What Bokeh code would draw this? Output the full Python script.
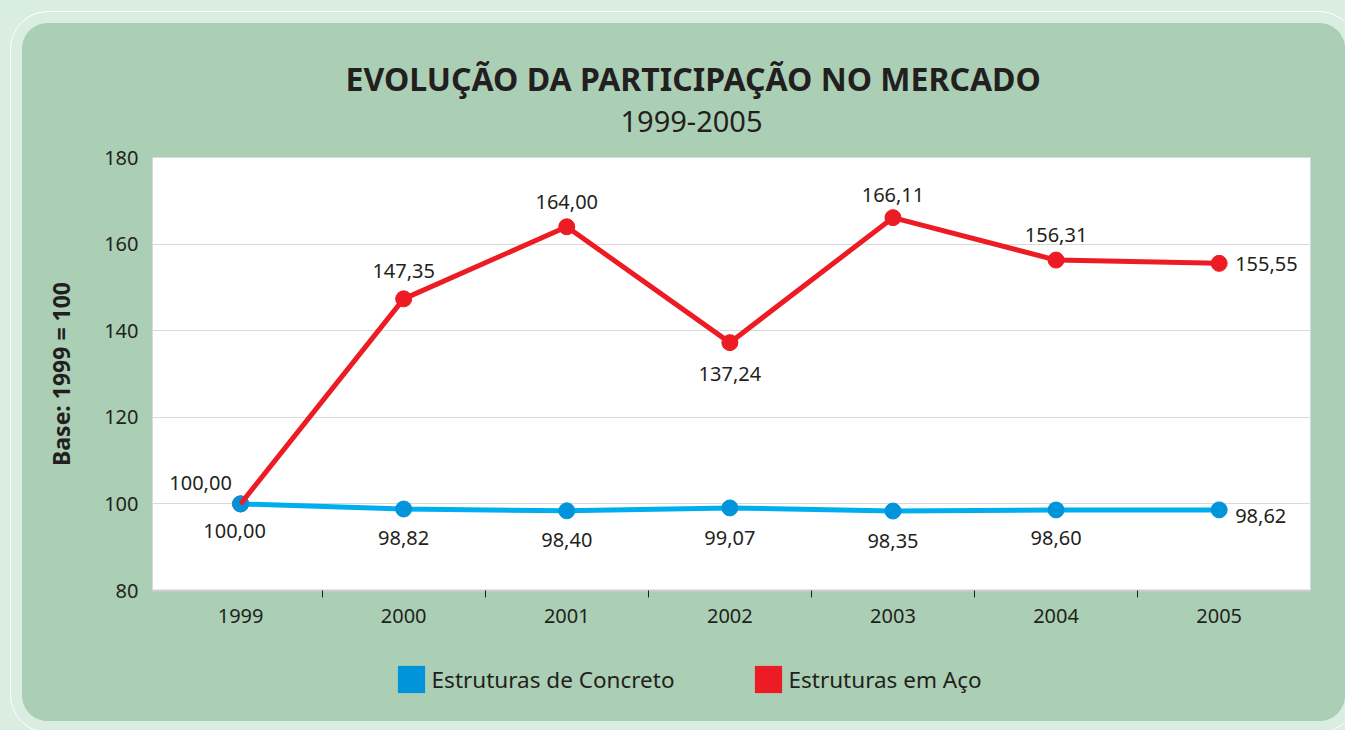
from bokeh.plotting import figure
from bokeh.layouts import column
from bokeh.models import (ColumnDataSource, FixedTicker, Legend, LegendItem, Title)
from bokeh.embed import file_html
from bokeh.resources import INLINE

# ---------------- data ----------------
years = ["1999", "2000", "2001", "2002", "2003", "2004", "2005"]
concreto = [100.00, 98.82, 98.40, 99.07, 98.35, 98.60, 98.62]
aco = [100.00, 147.35, 164.00, 137.24, 166.11, 156.31, 155.55]
y_ticks = [80, 100, 120, 140, 160, 180]

title_text = "EVOLUÇÃO DA PARTICIPAÇÃO NO MERCADO"
subtitle_text = "1999-2005"
y_label = "Base: 1999 = 100"
series_names = ["Estruturas de Concreto", "Estruturas em Aço"]

# ---------------- styles ----------------
FONT = "Noto Sans"
TXT = "#231f20"
PAGE_BG = "#d9ede0"
PANEL = "#abcfb5"
RED = "#ed1c24"
BLUE_LINE = "#00aeef"
BLUE_DOT = "#0095da"

# label placement (pixels)
aco_dx = [-40, 0, 0, 0, 0, 0, 16]
aco_dy = [-21, -28, -25, 31, -23, -25, 1]
aco_al = ["center"] * 6 + ["left"]
con_dx = [-6, 0, 0, 0, 0, 0, 16]
con_dy = [27, 29, 29, 30, 30, 28, 6]
con_al = ["center"] * 6 + ["left"]


def fmt(v):
    return f"{v:.2f}".replace(".", ",")


xs = list(range(len(years)))
src_aco = ColumnDataSource(dict(x=xs, y=aco, t=[fmt(v) for v in aco],
                                dx=aco_dx, dy=aco_dy, al=aco_al))
src_con = ColumnDataSource(dict(x=xs, y=concreto, t=[fmt(v) for v in concreto],
                                dx=con_dx, dy=con_dy, al=con_al))

W = 1323
p = figure(width=W, height=617, x_range=(-0.54, 6.56), y_range=(80, 180),
           output_backend="svg", toolbar_location=None,
           min_border_left=130, min_border_right=35, min_border_top=134,
           min_border_bottom=50, border_fill_color=PANEL,
           background_fill_color="white", outline_line_color="#d9d9d9",
           title=Title(text=title_text, align="left", offset=193,
                       text_font=FONT, text_font_size="32px",
                       text_font_style="bold", text_color=TXT, standoff=-33))

p.add_layout(Title(text=subtitle_text, align="left", offset=468, text_font=FONT,
                   text_font_size="29px", text_font_style="normal",
                   text_color=TXT, standoff=51), "above")

# grid
p.xgrid.visible = False
p.ygrid.ticker = FixedTicker(ticks=y_ticks)
p.ygrid.grid_line_color = "#d9d9d9"

# axes
p.xaxis.ticker = FixedTicker(ticks=xs, minor_ticks=[i + 0.5 for i in xs[:-1]])
p.xaxis.major_label_overrides = {i: y for i, y in zip(xs, years)}
p.xaxis.major_tick_line_color = None
p.xaxis.major_tick_out = 0
p.xaxis.major_tick_in = 0
p.xaxis.minor_tick_in = 0
p.xaxis.minor_tick_out = 7
p.xaxis.minor_tick_line_color = TXT
p.xaxis.axis_line_color = "#cfcfcf"
p.xaxis.axis_line_width = 2
p.xaxis.major_label_standoff = 11

p.yaxis.ticker = FixedTicker(ticks=y_ticks)
p.yaxis.axis_line_color = None
p.yaxis.major_tick_line_color = None
p.yaxis.minor_tick_line_color = None
p.yaxis.major_tick_out = 0
p.yaxis.major_label_standoff = 14
p.yaxis.axis_label = y_label
p.yaxis.axis_label_text_font = FONT
p.yaxis.axis_label_text_font_size = "23px"
p.yaxis.axis_label_text_font_style = "bold"
p.yaxis.axis_label_text_color = TXT
p.yaxis.axis_label_standoff = 24

for ax in (p.xaxis, p.yaxis):
    ax.major_label_text_font = FONT
    ax.major_label_text_font_size = "20px"
    ax.major_label_text_color = TXT

# series
p.scatter("x", "y", source=src_aco, size=16, color=RED)
p.line("x", "y", source=src_con, line_width=5, color=BLUE_LINE)
p.scatter("x", "y", source=src_con, size=16, color=BLUE_DOT)
p.line("x", "y", source=src_aco, line_width=5, color=RED)

for src in (src_aco, src_con):
    p.text("x", "y", text="t", source=src, x_offset="dx", y_offset="dy",
           text_align="al", text_baseline="middle", text_font_size="20px",
           text_color=TXT, text_font={"value": FONT})

# legend strip (separate figure; its frame is aligned with the chart's frame)
leg = figure(width=W, height=81, x_range=(0, 1), y_range=(0, 1),
             output_backend="svg", toolbar_location=None,
             x_axis_type=None, y_axis_type=None,
             min_border=0, min_border_left=0, min_border_right=0,
             min_border_top=0, min_border_bottom=0,
             border_fill_color=PANEL, background_fill_color=PANEL,
             outline_line_color=None)
leg.grid.visible = False
sw_b = leg.quad(left=[0], right=[0], top=[0], bottom=[0], fill_color=BLUE_DOT, line_color=None)
sw_r = leg.quad(left=[0], right=[0], top=[0], bottom=[0], fill_color=RED, line_color=None)
legend = Legend(items=[LegendItem(label=series_names[0], renderers=[sw_b]),
                       LegendItem(label=series_names[1], renderers=[sw_r])],
                location=(241.6, 25), orientation="horizontal",
                glyph_width=34, glyph_height=34, label_standoff=4, spacing=76,
                padding=0, margin=0, border_line_color=None, background_fill_alpha=0,
                label_text_font=FONT, label_text_font_size="22.5px",
                label_text_color=TXT)
leg.add_layout(legend)

panel = column(p, leg, spacing=0, margin=(23, 0, 9, 22),
               styles={"background-color": PANEL, "border-radius": "26px",
                       "overflow": "hidden", "outline": "1.5px solid white",
                       "outline-offset": "11px"})
page = column(panel, styles={"background-color": PAGE_BG})

open("out.html", "w").write(file_html(page, INLINE))
